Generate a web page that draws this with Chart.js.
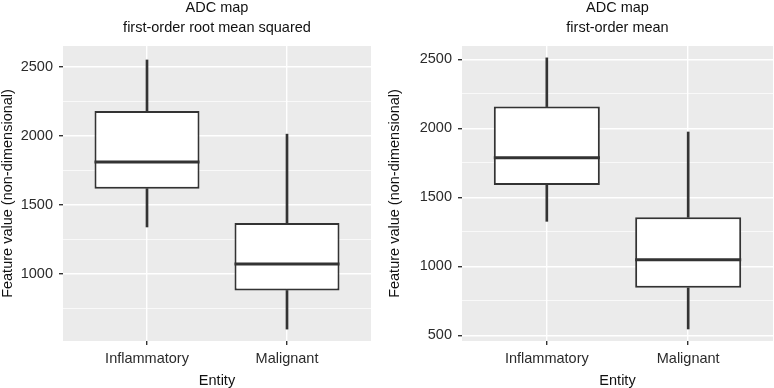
<!DOCTYPE html>
<html>
<head>
  <meta charset="UTF-8">
  <title>ADC map boxplots</title>
  <script src="https://cdn.jsdelivr.net/npm/chart.js"></script>
  <style>
    body { margin: 0; background: #fff; }
    .row { display: flex; width: 774px; height: 388px; }
    canvas { display: block; }
  </style>
</head>
<body>
  <div class="row">
    <canvas id="rms-chart" width="387" height="388"></canvas>
    <canvas id="mean-chart" width="387" height="388"></canvas>
  </div>

  <script>
    // categories on the x axis
    const categories = ['Inflammatory', 'Malignant'];

    // left panel: first-order root mean squared
    const rmsMin    = [1341, 603];
    const rmsQ1     = [1618, 882];
    const rmsMedian = [1810, 1074];
    const rmsQ3     = [2180, 1370];
    const rmsMax    = [2548, 2012];
    const rmsTicks      = [1000, 1500, 2000, 2500];
    const rmsMinorTicks = [750, 1250, 1750, 2250];
    const rmsRange      = [517, 2649];

    // right panel: first-order mean
    const meanMin    = [1326, 546];
    const meanQ1     = [1589, 844];
    const meanMedian = [1787, 1048];
    const meanQ3     = [2157, 1355];
    const meanMax    = [2510, 1973];
    const meanTicks      = [500, 1000, 1500, 2000, 2500];
    const meanMinorTicks = [750, 1250, 1750, 2250];
    const meanRange      = [459, 2596];

    const FONT = 'Liberation Sans, Arial, Helvetica, sans-serif';
    const FS = 14.5;
    const DARK = '#333333';

    // grey panel background like ggplot
    const panelBg = {
      id: 'panelBg',
      beforeDraw(chart) {
        const a = chart.chartArea, ctx = chart.ctx;
        ctx.save();
        ctx.fillStyle = '#EBEBEB';
        ctx.fillRect(a.left, a.top, a.right - a.left, a.bottom - a.top);
        ctx.restore();
      }
    };

    function makeBoxChart(id, subtitle, mins, q1s, meds, q3s, maxs, ticks, minorTicks, range, yWidth, padRight) {
      const xs = categories.map((c, i) => i + 1);
      const allTicks = ticks.concat(minorTicks).sort((a, b) => a - b);
      const isMajor = v => ticks.includes(v);

      // median segments, broken between boxes
      const medianPts = [];
      xs.forEach((x, i) => {
        medianPts.push({ x: x - 0.375, y: meds[i] });
        medianPts.push({ x: x + 0.375, y: meds[i] });
        medianPts.push({ x: x + 0.5, y: null });
      });

      new Chart(document.getElementById(id), {
        type: 'bar',
        data: {
          datasets: [
            {
              type: 'line',
              data: medianPts,
              borderColor: DARK,
              borderWidth: 3,
              pointRadius: 0,
              spanGaps: false,
              fill: false
            },
            {
              data: xs.map((x, i) => ({ x: x, y: [q1s[i], q3s[i]] })),
              backgroundColor: '#FFFFFF',
              borderColor: DARK,
              borderWidth: 2,
              borderSkipped: false,
              grouped: false,
              barPercentage: 0.75,
              categoryPercentage: 1
            },
            {
              data: xs.map((x, i) => ({ x: x, y: [mins[i], q1s[i]] })),
              backgroundColor: DARK,
              borderWidth: 0,
              grouped: false,
              barThickness: 2
            },
            {
              data: xs.map((x, i) => ({ x: x, y: [q3s[i], maxs[i]] })),
              backgroundColor: DARK,
              borderWidth: 0,
              grouped: false,
              barThickness: 2
            }
          ]
        },
        options: {
          responsive: false,
          animation: false,
          devicePixelRatio: 1,
          layout: { padding: { top: -2, left: 0, right: padRight, bottom: 0 } },
          plugins: {
            legend: { display: false },
            tooltip: { enabled: false },
            title: {
              display: true,
              fullSize: false,
              text: ['ADC map', subtitle],
              color: '#111111',
              font: { family: FONT, size: FS, weight: 'normal', lineHeight: '20px' },
              padding: { top: 0, bottom: 8 }
            }
          },
          scales: {
            x: {
              type: 'linear',
              min: 0.4,
              max: 2.6,
              offset: false,
              afterBuildTicks: s => { s.ticks = xs.map(v => ({ value: v })); },
              afterFit: s => { s.height = 47; },
              border: { display: false },
              grid: {
                offset: false,
                color: '#FFFFFF',
                lineWidth: 1.4,
                tickColor: DARK,
                tickLength: 4,
                tickWidth: 1.4
              },
              ticks: {
                padding: 5,
                color: '#2B2B2B',
                font: { family: FONT, size: FS },
                callback: v => categories[Math.round(v) - 1]
              },
              title: {
                display: true,
                text: 'Entity',
                color: '#111111',
                font: { family: FONT, size: FS, lineHeight: '14px' },
                padding: { top: 0, bottom: 0 }
              }
            },
            y: {
              type: 'linear',
              min: range[0],
              max: range[1],
              afterBuildTicks: s => { s.ticks = allTicks.map(v => ({ value: v })); },
              afterFit: s => { s.width = yWidth; },
              border: { display: false },
              grid: {
                color: '#FFFFFF',
                lineWidth: c => isMajor(c.tick.value) ? 1.4 : 0.7,
                tickColor: c => isMajor(c.tick.value) ? DARK : 'rgba(0,0,0,0)',
                tickLength: 4,
                tickWidth: 1.4
              },
              ticks: {
                padding: 6,
                color: '#2B2B2B',
                font: { family: FONT, size: FS },
                callback: v => isMajor(v) ? String(v) : ''
              },
              title: {
                display: true,
                text: 'Feature value (non-dimensional)',
                color: '#111111',
                font: { family: FONT, size: FS, lineHeight: '16px' },
                padding: { top: 0, bottom: 0 }
              }
            }
          }
        },
        plugins: [panelBg]
      });
    }

    makeBoxChart('rms-chart', 'first-order root mean squared',
      rmsMin, rmsQ1, rmsMedian, rmsQ3, rmsMax, rmsTicks, rmsMinorTicks, rmsRange, 63, 16);
    makeBoxChart('mean-chart', 'first-order mean',
      meanMin, meanQ1, meanMedian, meanQ3, meanMax, meanTicks, meanMinorTicks, meanRange, 75, 1);
  </script>
</body>
</html>
